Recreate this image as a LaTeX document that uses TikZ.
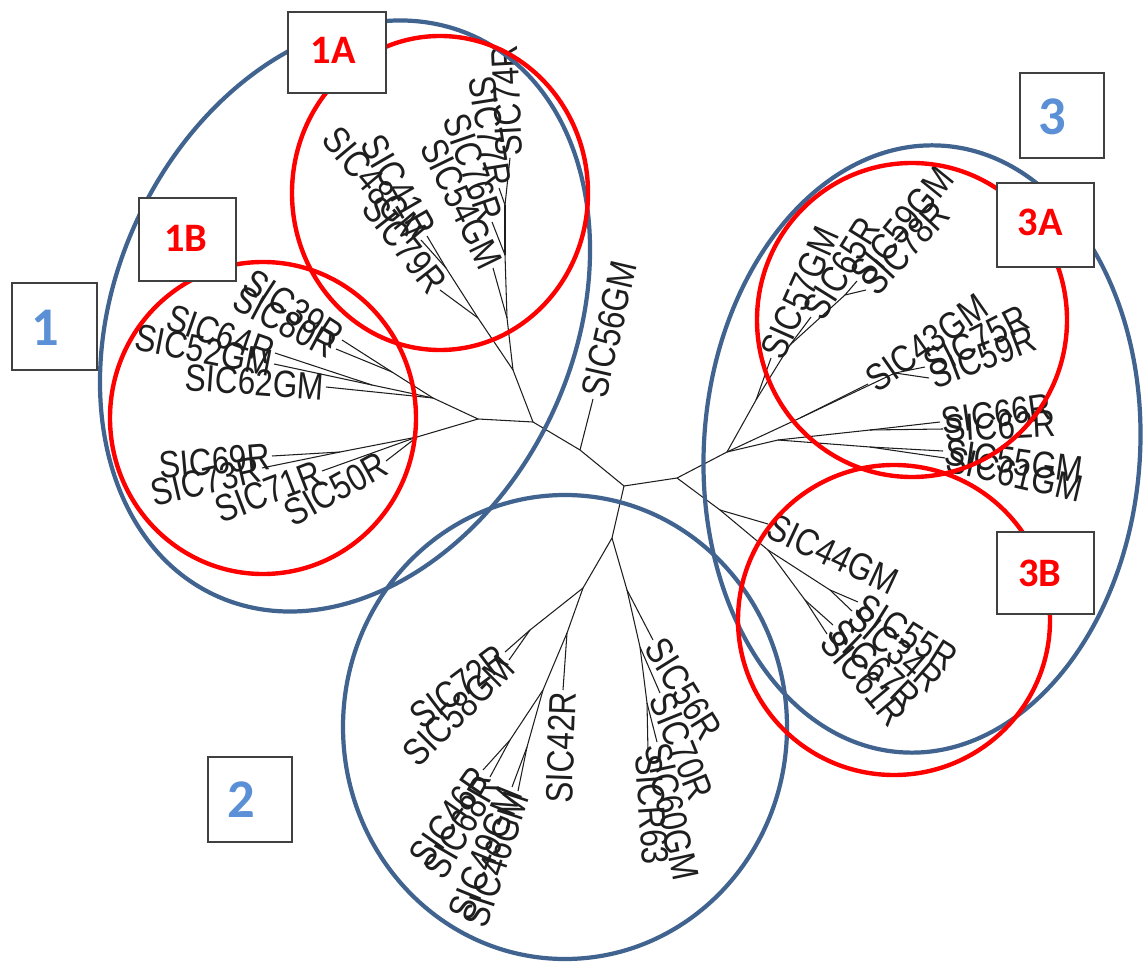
\documentclass[tikz,border=0pt]{standalone}
\usepackage{fontspec}
\usepackage{graphicx}
\newfontfamily\labfont{Liberation Sans}
\newfontfamily\tagfont{Carlito}
\definecolor{ellblue}{HTML}{41638F}
\definecolor{numblue}{HTML}{5B8FD6}
\definecolor{boxgray}{HTML}{404040}
\definecolor{labgray}{HTML}{1E1E1E}
\newcommand\lbl[1]{\scalebox{1}[1.2]{#1}}
\begin{document}
\begin{tikzpicture}[x=0.02cm,y=-0.02cm,
 edge/.style={line width=0.6pt,draw=labgray},
 lfW/.style={anchor=west,inner sep=1pt,text=labgray,font=\labfont\fontsize{18}{18}\selectfont},
 lfE/.style={anchor=east,inner sep=1pt,text=labgray,font=\labfont\fontsize{18}{18}\selectfont},
 blueell/.style={draw=ellblue,line width=2.4pt},
 redell/.style={draw=red,line width=2.5pt},
 tagbox/.style={draw=boxgray,line width=0.9pt,fill=white,inner sep=0pt},
 redtag/.style={text=red,font=\tagfont\bfseries\fontsize{23}{23}\selectfont,inner sep=0pt},
 bluetag/.style={text=numblue,font=\tagfont\bfseries\fontsize{31}{31}\selectfont,inner sep=0pt}]
\useasboundingbox (0,0) rectangle (1145,962);

% ---------- backbone ----------
\coordinate (A) at (533,422);
\coordinate (C) at (580,450);
\coordinate (D) at (624,486);
\coordinate (E) at (677,478);
\coordinate (F) at (612,538);
\coordinate (t56GM) at (593,399);
% ---------- cluster 1B ----------
\coordinate (B1) at (478,419);
\coordinate (U) at (433,398);
\coordinate (U1) at (392,372);
\coordinate (U2) at (372,385);
\coordinate (W) at (417,437);
\coordinate (W1) at (340,452);
\coordinate (t39R) at (342,340);
\coordinate (t80R) at (336,349);
\coordinate (t64R) at (275,353);
\coordinate (t52GM) at (274,364);
\coordinate (t62GM) at (326,387);
\coordinate (t69R) at (272,456);
\coordinate (t73R) at (262,468);
\coordinate (t71R) at (322,471);
\coordinate (t50R) at (386,461);
% ---------- cluster 1A ----------
\coordinate (V) at (513,370);
\coordinate (X) at (478,318);
\coordinate (X2) at (446,268);
\coordinate (V2) at (507,318);
\coordinate (V3) at (505,255);
\coordinate (V4) at (505,205);
\coordinate (t79R) at (440,290);
\coordinate (t41R) at (427,236);
\coordinate (t48GM) at (421,240);
\coordinate (t54GM) at (493,268);
\coordinate (t76R) at (492,222);
\coordinate (t77R) at (499,188);
\coordinate (t74R) at (510,158);
% ---------- cluster 3A ----------
\coordinate (L) at (727,452);
\coordinate (N) at (756,400);
\coordinate (N2) at (790,345);
\coordinate (N3) at (845,295);
\coordinate (t57GM) at (771,358);
\coordinate (t65R) at (811,317);
\coordinate (t59GM) at (857,281);
\coordinate (t78R) at (866,290);
\coordinate (P) at (800,418);
\coordinate (P2) at (895,373);
\coordinate (t43GM) at (868,384);
\coordinate (t75R) at (925,367);
\coordinate (t59R) at (929,378);
\coordinate (M) at (778,440);
\coordinate (Mu) at (870,430);
\coordinate (Ml) at (870,447);
\coordinate (t66R) at (940,422);
\coordinate (t62R) at (943,429);
\coordinate (t55GM) at (943,451);
\coordinate (t61GM) at (945,458);
% ---------- cluster 3B ----------
\coordinate (Q) at (720,510);
\coordinate (Q2) at (768,550);
\coordinate (Q3) at (830,590);
\coordinate (Q4) at (805,600);
\coordinate (t44GM) at (768,524);
\coordinate (t55R) at (858,602);
\coordinate (t34R) at (852,611);
\coordinate (t67R) at (833,625);
\coordinate (t61R) at (827,634);
% ---------- cluster 2 ----------
\coordinate (G) at (583,588);
\coordinate (Y) at (530,630);
\coordinate (H) at (567,633);
\coordinate (I) at (543,690);
\coordinate (I1) at (510,740);
\coordinate (I2) at (527,747);
\coordinate (K) at (627,590);
\coordinate (K2) at (640,647);
\coordinate (K3) at (647,703);
\coordinate (t72R) at (505,652);
\coordinate (t58GM) at (509,660);
\coordinate (t42R) at (563,690);
\coordinate (t46R) at (483,770);
\coordinate (t68R) at (490,777);
\coordinate (t49GM) at (512,787);
\coordinate (t46GM) at (518,791);
\coordinate (t56R) at (653,640);
\coordinate (t70R) at (660,693);
\coordinate (t60GM) at (657,742);
\coordinate (tR63) at (648,752);

% ---------- edges ----------
\foreach \a/\b in {A/C,C/D,D/E,D/F,C/t56GM,
  A/B1,B1/U,B1/W,U/U1,U1/t39R,U1/t80R,U/U2,U2/t64R,U2/t52GM,U/t62GM,
  W/W1,W1/t69R,W1/t73R,W/t71R,W/t50R,
  A/V,V/X,X/t79R,X/X2,X2/t41R,X2/t48GM,V/V2,V2/t54GM,V2/V3,V3/t76R,V3/V4,V4/t77R,V4/t74R,
  E/L,L/N,N/t57GM,N/N2,N2/t65R,N2/N3,N3/t59GM,N3/t78R,
  L/P,P/t43GM,P/P2,P2/t75R,P2/t59R,
  L/M,M/Mu,Mu/t66R,Mu/t62R,M/Ml,Ml/t55GM,Ml/t61GM,
  E/Q,Q/t44GM,Q/Q2,Q2/Q3,Q3/t55R,Q3/t34R,Q2/Q4,Q4/t67R,Q4/t61R,
  F/G,G/Y,Y/t72R,Y/t58GM,G/H,H/t42R,H/I,I/I1,I1/t46R,I1/t68R,I/I2,I2/t49GM,I2/t46GM,
  F/K,K/t56R,K/K2,K2/t70R,K2/K3,K3/t60GM,K3/tR63}
  \draw[edge] (\a) -- (\b);

% ---------- leaf labels ----------
\node[lfW,rotate=77] (l56GM) at (t56GM) {\lbl{SIC56GM}};
% 1B
\node[lfE,rotate=-33] (l39R) at (t39R) {\lbl{SIC39R}};
\node[lfE,rotate=-28] (l80R) at (t80R) {\lbl{SIC80R}};
\node[lfE,rotate=-19] (l64R) at (t64R) {\lbl{SIC64R}};
\node[lfE,rotate=-11] (l52GM) at (t52GM) {\lbl{SIC52GM}};
\node[lfE,rotate=-4] (l62GM) at (t62GM) {\lbl{SIC62GM}};
\node[lfE,rotate=5] (l69R) at (t69R) {\lbl{SIC69R}};
\node[lfE,rotate=13] (l73R) at (t73R) {\lbl{SIC73R}};
\node[lfE,rotate=21] (l71R) at (t71R) {\lbl{SIC71R}};
\node[lfE,rotate=29] (l50R) at (t50R) {\lbl{SIC50R}};
% 1A
\node[lfW,rotate=93] (l74R) at (t74R) {\lbl{SIC74R}};
\node[lfE,rotate=-81] (l77R) at (t77R) {\lbl{SIC77R}};
\node[lfE,rotate=-71] (l76R) at (t76R) {\lbl{SIC76R}};
\node[lfE,rotate=-64] (l54GM) at (t54GM) {\lbl{SIC54GM}};
\node[lfE,rotate=-60] (l41R) at (t41R) {\lbl{SIC41R}};
\node[lfE,rotate=-50] (l48GM) at (t48GM) {\lbl{SIC48GM}};
\node[lfE,rotate=-52] (l79R) at (t79R) {\lbl{SIC79R}};
% 3A
\node[lfW,rotate=66] (l57GM) at (t57GM) {\lbl{SIC57GM}};
\node[lfW,rotate=58] (l65R) at (t65R) {\lbl{SIC65R}};
\node[lfW,rotate=51] (l59GM) at (t59GM) {\lbl{SIC59GM}};
\node[lfW,rotate=47] (l78R) at (t78R) {\lbl{SIC78R}};
\node[lfW,rotate=35] (l43GM) at (t43GM) {\lbl{SIC43GM}};
\node[lfW,rotate=27] (l75R) at (t75R) {\lbl{SIC75R}};
\node[lfW,rotate=21] (l59R) at (t59R) {\lbl{SIC59R}};
\node[lfW,rotate=8] (l66R) at (t66R) {\lbl{SIC66R}};
\node[lfW,rotate=3] (l62R) at (t62R) {\lbl{SIC62R}};
\node[lfW,rotate=-8] (l55GM) at (t55GM) {\lbl{SIC55GM}};
\node[lfW,rotate=-13] (l61GM) at (t61GM) {\lbl{SIC61GM}};
% 3B
\node[lfW,rotate=-25] (l44GM) at (t44GM) {\lbl{SIC44GM}};
\node[lfW,rotate=-32] (l55R) at (t55R) {\lbl{SIC55R}};
\node[lfW,rotate=-41] (l34R) at (t34R) {\lbl{SIC34R}};
\node[lfW,rotate=-44] (l67R) at (t67R) {\lbl{SIC67R}};
\node[lfW,rotate=-50] (l61R) at (t61R) {\lbl{SIC61R}};
% 2
\node[lfE,rotate=37] (l72R) at (t72R) {\lbl{SIC72R}};
\node[lfE,rotate=45] (l58GM) at (t58GM) {\lbl{SIC58GM}};
\node[lfE,rotate=88] (l42R) at (t42R) {\lbl{SIC42R}};
\node[lfE,rotate=55] (l46R) at (t46R) {\lbl{SIC46R}};
\node[lfE,rotate=60] (l68R) at (t68R) {\lbl{SIC68R}};
\node[lfE,rotate=68] (l49GM) at (t49GM) {\lbl{SIC49GM}};
\node[lfE,rotate=72] (l46GM) at (t46GM) {\lbl{SIC46GM}};
\node[lfW,rotate=-58] (l56R) at (t56R) {\lbl{SIC56R}};
\node[lfW,rotate=-68] (l70R) at (t70R) {\lbl{SIC70R}};
\node[lfW,rotate=-78] (l60GM) at (t60GM) {\lbl{SIC60GM}};
\node[lfW,rotate=-86] (lR63) at (tR63) {\lbl{SICR63}};

% ---------- cluster outlines ----------
\coordinate (c1) at (345,316);
\coordinate (c2) at (565,727);
\coordinate (c3) at (922,449);
\draw[blueell,rotate around={65:(c1)}] (c1) ellipse [x radius=308, y radius=229];
\draw[blueell] (c2) ellipse [x radius=222, y radius=232];
\draw[blueell,rotate around={-4:(c3)}] (c3) ellipse [x radius=218, y radius=304];
\draw[redell] (440,193) ellipse [x radius=148, y radius=157];
\draw[redell] (263,418) ellipse [x radius=153, y radius=156];
\draw[redell] (912,320) ellipse [x radius=155, y radius=157];
\draw[redell] (894,620) ellipse [x radius=156, y radius=155];

% ---------- tag boxes ----------
\node[tagbox,minimum width=1.96cm,minimum height=1.62cm] (b1A) at (337,52.5) {};
\node[redtag] (t1A) at (333,50) {1A};
\node[tagbox,minimum width=1.94cm,minimum height=1.66cm] (b1B) at (187.5,239.5) {};
\node[redtag] (t1B) at (186,238) {1B};
\node[tagbox,minimum width=1.70cm,minimum height=1.74cm] (b1) at (54.5,326.5) {};
\node[bluetag] (t1) at (45,328) {1};
\node[tagbox,minimum width=1.68cm,minimum height=1.70cm] (b3) at (1062,115.5) {};
\node[bluetag] (t3) at (1052,117) {3};
\node[tagbox,minimum width=1.94cm,minimum height=1.68cm] (b3A) at (1045.5,225) {};
\node[redtag] (t3A) at (1040,222) {3A};
\node[tagbox,minimum width=1.94cm,minimum height=1.64cm] (b3B) at (1045.5,573) {};
\node[redtag] (t3B) at (1040,573) {3B};
\node[tagbox,minimum width=1.68cm,minimum height=1.70cm] (b2) at (250,799.5) {};
\node[bluetag] (t2) at (241,800) {2};
\end{tikzpicture}
\end{document}
